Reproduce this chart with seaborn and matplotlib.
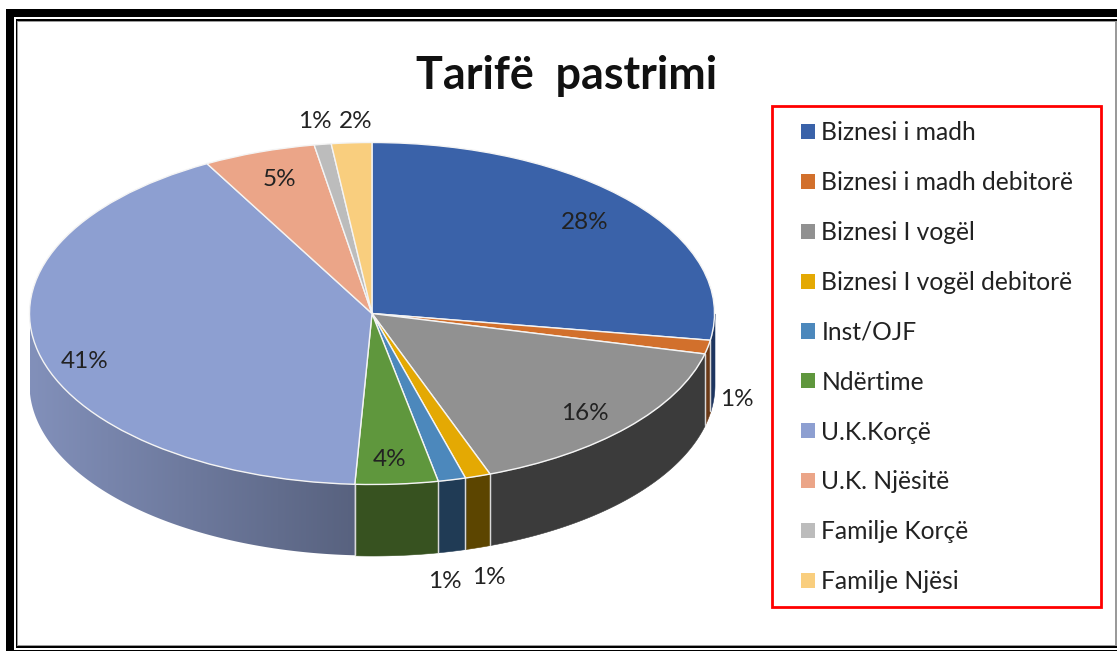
import numpy as np
import matplotlib
matplotlib.use("Agg")
import matplotlib.pyplot as plt
from matplotlib.patches import Rectangle, Polygon
from matplotlib.colors import to_rgb
import seaborn as sns

W, H = 1117, 651
categories = ["Biznesi i madh", "Biznesi i madh debitorë", "Biznesi I vogël",
              "Biznesi I vogël debitorë", "Inst/OJF", "Ndërtime", "U.K.Korçë",
              "U.K. Njësitë", "Familje Korçë", "Familje Njësi"]
values = [27.5, 1.3, 15.6, 1.2, 1.3, 3.9, 41.2, 5.3, 0.8, 1.9]
top_colors = ["#3A62A9", "#D2702C", "#919191", "#E4A903", "#4C88BC",
              "#5F973D", "#8D9FD1", "#EBA588", "#BCBCBC", "#F9CE7E"]
side_colors = ["#1D3560", "#6B3A17", "#3B3B3B", "#5C4500", "#203B55",
               "#375220", "#7685AF", "#EBA588", "#BCBCBC", "#F9CE7E"]
side_dark = "#58627F"
side_light = "#8290BA"
title_text = "Tarifë  pastrimi"

sns.set_theme(style="white")
plt.rcParams["font.family"] = ["Lato", "DejaVu Sans"]
TEXT = "#222222"
palette = sns.color_palette(top_colors)

fig = plt.figure(figsize=(W / 100, H / 100), dpi=100, facecolor="white")


def px_rect(x0, y0, x1, y1, color, edge="none", lw=0, z=0):
    r = Rectangle((x0 / W, 1 - y1 / H), (x1 - x0) / W, (y1 - y0) / H,
                  transform=fig.transFigure, facecolor=color,
                  edgecolor=edge, linewidth=lw, zorder=z)
    fig.add_artist(r)


# Double frame round the picture
px_rect(6, 9, W, H, "black")
px_rect(14, 17, W, 650, "white")
px_rect(15.5, 19, W, 648, "black")
px_rect(17, 21, W, 646, "#9A9A9A")
px_rect(18, 22, 1115, 644.5, "white")
# Red legend box
px_rect(772, 106, 1101, 607, "white", edge="#FF0000", lw=2, z=1)

# Axes: data y in [-1, 1] is the top ellipse, the extra band below holds the side
cx, cy, rx, ry, depth = 372, 313.5, 342.5, 171, 71
d = depth / ry
ax = fig.add_axes([(cx - rx) / W, 1 - (cy + ry + depth + 2) / H,
                   2 * rx / W, (2 * ry + depth + 2) / H])
ax.patch.set_alpha(0)
wedges, _ = ax.pie(values, colors=palette, startangle=90, counterclock=False,
                   radius=1, wedgeprops=dict(edgecolor="#F4F4F4", linewidth=1.0, zorder=5))
ax.set_aspect("auto")

fractions = np.array(values) / sum(values)
edges = np.concatenate([[0], np.cumsum(fractions)]) * 2 * np.pi  # clockwise from top


def side_outline(a0, a1):
    th = np.linspace(a0, a1, max(2, int((a1 - a0) * 120)))
    return np.sin(th), np.cos(th)


for i, (a0, a1) in enumerate(zip(edges[:-1], edges[1:])):
    a0c, a1c = max(a0, np.pi / 2), min(a1, 3 * np.pi / 2)
    if a1c <= a0c:
        continue
    x, y = side_outline(a0c, a1c)
    if categories[i] == "U.K.Korçë":
        # Shaded side: lighter to the left, darker toward the front
        poly = Polygon(np.column_stack([np.r_[x, x[::-1]], np.r_[y, y[::-1] - d]]),
                       closed=True, transform=ax.transData, facecolor="none", edgecolor="none")
        ax.add_patch(poly)
        t = np.linspace(0, 1, 256)[None, :, None]
        grad = np.array(to_rgb(side_light))[None, None, :] * (1 - t) + \
            np.array(to_rgb(side_dark))[None, None, :] * t
        im = ax.imshow(grad, aspect="auto", zorder=3,
                       extent=(x.min(), x.max(), -1 - d, 1), interpolation="bilinear")
        im.set_clip_path(poly)
    else:
        ax.fill_between(x, y, y - d, color=side_colors[i], linewidth=0.4, zorder=3,
                        edgecolor=side_colors[i])
    # Light seams between side faces
    for a in (a0, a1):
        if np.pi / 2 < a < 3 * np.pi / 2:
            ax.plot([np.sin(a)] * 2, [np.cos(a), np.cos(a) - d], color="#D8D8D8",
                    lw=0.9, zorder=4)

ax.set_xlim(-1, 1)
ax.set_ylim(-1 - d - 2 / ry, 1)

# Percent labels, positioned in picture pixels
label_px = [(585, 222), (737, 400), (585, 414), (489, 577), (445, 582),
            (390, 460), (85, 361), (279, 179), (315, 122), (356, 122)]
for v, (px, py) in zip(values, label_px):
    fig.text(px / W, 1 - py / H, f"{v:.0f}%", ha="center", va="center",
             fontsize=17.5, color=TEXT, zorder=10)

fig.text(567 / W, 1 - 76 / H, title_text, ha="center", va="center", fontsize=32.3,
         fontweight="bold", color="#111111", zorder=10)

leg = fig.legend(wedges, categories, loc="upper left",
                 bbox_to_anchor=(801 / W, 1 - 121 / H), bbox_transform=fig.transFigure,
                 borderaxespad=0, frameon=False, fontsize=17.7,
                 labelspacing=1.095, handlelength=0.57, handleheight=0.57,
                 handletextpad=0.26, borderpad=0, labelcolor=TEXT)
leg.set_zorder(9)
for h in leg.legend_handles:
    h.set_edgecolor("none")

fig.savefig("out.png", dpi=100, facecolor="white")
